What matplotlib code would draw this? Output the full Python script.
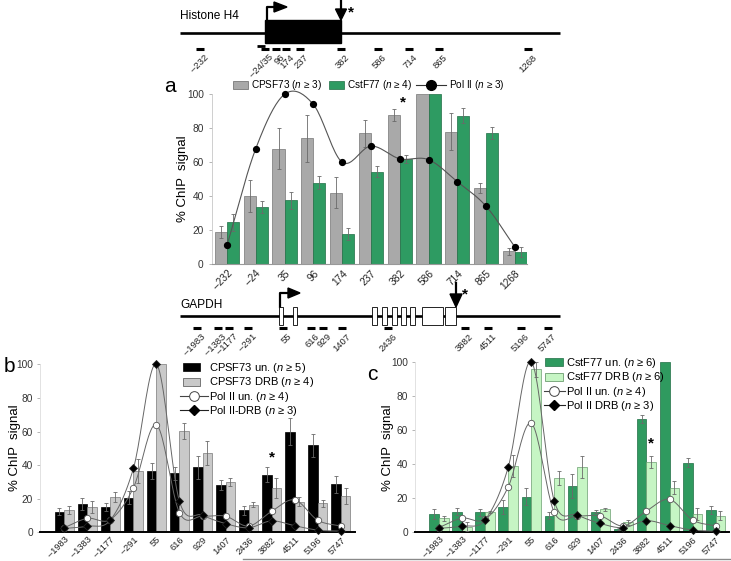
import numpy as np
import matplotlib
matplotlib.use('Agg')
import matplotlib.pyplot as plt
from matplotlib.patches import Rectangle, Polygon
from matplotlib.legend_handler import HandlerPatch
from matplotlib.lines import Line2D

plt.rcParams['font.family'] = ['Liberation Sans', 'DejaVu Sans']
plt.rcParams['mathtext.fontset'] = 'custom'
plt.rcParams['mathtext.rm'] = 'Liberation Sans'
plt.rcParams['mathtext.it'] = 'Liberation Sans:italic'

# ---------------- data ----------------
h4_sites = ['–232', '–24', '35', '96', '174', '237', '382', '586', '714', '865', '1268']
cpsf73_a = [19, 40, 68, 74, 42, 77, 88, 100, 78, 45, 7.5]
cpsf73_a_err = [3.5, 9.5, 12, 14, 9, 8, 3.5, 0, 11, 3, 2]
cstf77_a = [24.5, 33.5, 37.5, 48, 17.5, 54.5, 62, 100, 87.5, 77, 7]
cstf77_a_err = [5, 3.5, 5, 4, 3.5, 3.5, 2.5, 0, 4.5, 3.5, 3]
pol2_a = [11, 68, 100, 94, 60, 69.5, 62, 61.5, 48.5, 34, 10]

gapdh_sites = ['–1983', '–1383', '–1177', '–291', '55', '616', '929', '1407',
               '2436', '3882', '4511', '5196', '5747']
cpsf73_un = [12.3, 16.7, 15, 20.6, 36.5, 35, 38.7, 28.2, 13, 34.3, 60, 51.8, 28.6]
cpsf73_un_err = [2, 3.5, 2.5, 4, 5, 4, 7, 3, 2.5, 4.5, 8, 7, 5]
cpsf73_drb = [13.3, 14.9, 20.8, 36.5, 100, 60.3, 47.2, 29.8, 16.3, 26.2, 18.3, 17.3, 21.6]
cpsf73_drb_err = [2.5, 3.5, 3, 7, 0, 5, 7, 2.5, 1.5, 6, 2.5, 2, 5]
cstf77_un = [10.7, 12.1, 11.7, 15, 20.9, 9.8, 27.3, 12.1, 2.1, 66.4, 100, 40.8, 13.1]
cstf77_un_err = [2.8, 2, 2, 4, 5, 2, 7, 1, 0.5, 2.5, 0, 2.5, 2.5]
cstf77_drb = [8.2, 3.3, 11.9, 38.9, 95.5, 32, 38.1, 13.5, 5.9, 41.4, 26.2, 10.7, 9.6]
cstf77_drb_err = [1.6, 2.5, 0.5, 6.4, 4.5, 4, 6.5, 1, 1.4, 3.5, 4, 3.3, 2.6]
pol2_un = [2.8, 8.3, 7.6, 26.5, 64, 11.7, 9.6, 9.6, 3.7, 12.5, 19.3, 7.2, 3.7]
pol2_drb = [2.3, 3.6, 7.3, 38, 100, 18.4, 10.2, 5.2, 2.7, 6.8, 3.9, 1.3, 0.7]

# gene-diagram probe labels (schematic)
h4_probe_labels = ['–232', '–24/35', '96', '174', '237', '382', '586', '714', '865', '1268']
gapdh_probe_labels = gapdh_sites

W, H = 731, 561
fig = plt.figure(figsize=(W / 100, H / 100), dpi=100)

# ---------------- helpers ----------------
def px_axes(l, t, r, b):
    return fig.add_axes([l / W, 1 - b / H, (r - l) / W, (b - t) / H])


def smooth(xv, yv, n=20):
    xv = np.asarray(xv, float); yv = np.asarray(yv, float)
    P = np.column_stack([xv, yv])
    P = np.vstack([2 * P[0] - P[1], P, 2 * P[-1] - P[-2]])
    out = []
    t = np.linspace(0, 1, n, endpoint=False)[:, None]
    for i in range(1, len(P) - 2):
        p0, p1, p2, p3 = P[i - 1], P[i], P[i + 1], P[i + 2]
        seg = 0.5 * ((2 * p1) + (-p0 + p2) * t + (2 * p0 - 5 * p1 + 4 * p2 - p3) * t ** 2
                     + (-p0 + 3 * p1 - 3 * p2 + p3) * t ** 3)
        out.append(seg)
    out.append(P[-2][None, :])
    S = np.vstack(out)
    return S[:, 0], S[:, 1]


def add_bars(ax, v1, e1, v2, e2, c1, c2, ec1, ec2, w=0.42):
    x = np.arange(len(v1))
    ax.bar(x - w / 2, v1, w, color=c1, edgecolor=ec1, lw=0.5, zorder=2)
    ax.bar(x + w / 2, v2, w, color=c2, edgecolor=ec2, lw=0.5, zorder=2)
    for off, v, e in ((-w / 2, v1, e1), (w / 2, v2, e2)):
        v = np.asarray(v, float); e = np.asarray(e, float)
        m = e > 0
        ax.errorbar(x[m] + off, v[m], yerr=e[m], fmt='none', ecolor='#6a6a6a',
                    elinewidth=0.6, capsize=1.5, capthick=0.6, zorder=3)


def style_axes(ax, labels, xlim, bottom_color, bottom_lw, left_color, xfs, ypad, xpad):
    ax.set_xlim(*xlim)
    ax.set_ylim(0, 100)
    ax.set_yticks(range(0, 101, 20))
    ax.set_xticks(np.arange(len(labels)))
    ax.set_xticklabels(labels, rotation=45, ha='right', rotation_mode='anchor',
                       fontsize=xfs, color='#222222')
    ax.tick_params(axis='x', length=0, pad=xpad)
    ax.tick_params(axis='y', length=2, width=0.5, color='#999999', pad=ypad,
                   labelsize=7.3, labelcolor='#333333')
    for s in ('top', 'right'):
        ax.spines[s].set_visible(False)
    ax.spines['left'].set_color(left_color)
    ax.spines['left'].set_linewidth(0.6)
    ax.spines['bottom'].set_color(bottom_color)
    ax.spines['bottom'].set_linewidth(bottom_lw)
    ax.set_facecolor('none')


def patch_func_factory(x0, wf):
    def f(legend, orig_handle, xdescent, ydescent, width, height, fontsize):
        return Rectangle((-xdescent + x0 * width, -ydescent), wf * width, height)
    return f

# ---------------- gene diagrams (schematic overlay) ----------------
ov = fig.add_axes([0, 0, 1, 1])
ov.set_xlim(0, W); ov.set_ylim(H, 0); ov.axis('off')

# Histone H4
ov.text(180, 16, 'Histone H4', fontsize=8.6, va='center', ha='left')
ov.plot([180, 560], [33, 33], color='k', lw=1.9, solid_capstyle='butt')
ov.add_patch(Rectangle((265, 20), 76, 23, facecolor='k', edgecolor='k'))
ov.plot([266.5, 266.5, 276], [20, 7, 7], color='k', lw=1.6)
ov.add_patch(Polygon([(274, 2), (274, 12), (287, 7)], closed=True, color='k'))
ov.plot([341, 341], [1, 11], color='k', lw=1.6)
ov.add_patch(Polygon([(335.5, 9), (346.5, 9), (341, 20)], closed=True, color='k'))
ov.text(348, 12, '*', fontsize=11, ha='left', va='center', fontweight='bold')
h4_probe_x = [200, 265, 276, 286, 300, 341, 378, 409, 439, 528]
for lab, xp in zip(h4_probe_labels, h4_probe_x):
    ov.plot([xp - 4, xp + 4], [49, 49], color='k', lw=2.2, solid_capstyle='butt')
    ov.text(xp + 4, 53, lab, fontsize=6.8, rotation=45, ha='right', va='top',
            rotation_mode='anchor', color='#222222')
ov.plot([257, 265], [46, 46], color='k', lw=2.0, solid_capstyle='butt')

# GAPDH
ov.text(180, 305, 'GAPDH', fontsize=8.6, va='center', ha='left')
ov.plot([180, 560], [316, 316], color='k', lw=1.9, solid_capstyle='butt')
exons = [(279, 4), (293, 4), (372, 5), (382, 5), (392, 5), (401, 5), (410, 5), (422, 21), (445, 11)]
for x0, wd in exons:
    ov.add_patch(Rectangle((x0, 307), wd, 18, facecolor='white', edgecolor='k', lw=0.6, zorder=3))
ov.plot([280, 280, 289], [307, 293, 293], color='k', lw=1.6)
ov.add_patch(Polygon([(288, 288), (288, 298), (300, 293)], closed=True, color='k'))
ov.plot([456, 456], [283, 296], color='k', lw=1.6)
ov.add_patch(Polygon([(450, 294), (462, 294), (456, 307)], closed=True, color='k'))
ov.text(462, 294, '*', fontsize=11, ha='left', va='center', fontweight='bold')
gapdh_probe_x = [197, 218, 229, 248, 283, 311, 323, 342, 388, 465, 488, 521, 548]
for lab, xp in zip(gapdh_probe_labels, gapdh_probe_x):
    ov.plot([xp - 4, xp + 4], [328, 328], color='k', lw=2.2, solid_capstyle='butt')
    ov.text(xp + 4, 332, lab, fontsize=6.8, rotation=45, ha='right', va='top',
            rotation_mode='anchor', color='#222222')

ov.plot([243, 731], [558.5, 558.5], color='#8a8a8a', lw=1.0)

# ---------------- panel a ----------------
gray_a = '#a9a9a9'
green = '#2e9b62'
axa = px_axes(212, 94.3, 527, 264)
add_bars(axa, cpsf73_a, cpsf73_a_err, cstf77_a, cstf77_a_err, gray_a, green, '#777777', '#1f6e45')
xs, ys = smooth(np.arange(len(pol2_a)), pol2_a)
axa.plot(xs, ys, color='#555555', lw=0.8, zorder=4, clip_on=False)
axa.plot(np.arange(len(pol2_a)), pol2_a, 'o', color='k', ms=4.2, zorder=5, clip_on=False)
style_axes(axa, h4_sites, (-0.52, 10.42), '#999999', 0.8, '#c8c8c8', 7.3, 4, 3)
axa.text(6.1, 95, '*', fontsize=11, ha='center', va='center', fontweight='bold')
fig.text(183 / W, 1 - 179 / H, '% ChIP  signal', rotation=90, fontsize=9.5, ha='center', va='center')
fig.text(170 / W, 1 - 86 / H, 'a', fontsize=15, ha='center', va='center')

la1 = axa.legend([Rectangle((0, 0), 1, 1, facecolor=gray_a, edgecolor='#666666', lw=0.5),
                  Rectangle((0, 0), 1, 1, facecolor=green, edgecolor='#1f6e45', lw=0.5)],
                 ['CPSF73 ($n$ ≥ 3)', 'CstF77 ($n$ ≥ 4)'], ncol=2, frameon=False,
                 fontsize=7.2, handlelength=1.5, handleheight=0.75, handletextpad=0.3,
                 columnspacing=0.7, borderpad=0, borderaxespad=0,
                 loc='center left', bbox_to_anchor=(233 / W, 1 - 85.5 / H),
                 bbox_transform=fig.transFigure)
axa.add_artist(la1)
axa.legend([Line2D([], [], color='#333333', lw=0.8, marker='o', ms=7, mfc='k', mec='k')],
           ['Pol II ($n$ ≥ 3)'], frameon=False, fontsize=7.2, handlelength=3.0,
           handletextpad=0.3, borderpad=0, borderaxespad=0, numpoints=1,
           loc='center left', bbox_to_anchor=(416 / W, 1 - 85.5 / H),
           bbox_transform=fig.transFigure)

# ---------------- panel b ----------------
axb = px_axes(40, 364.3, 355, 532.3)
add_bars(axb, cpsf73_un, cpsf73_un_err, cpsf73_drb, cpsf73_drb_err, 'black', '#c9c9c9', 'black', '#7a7a7a')
xg = np.arange(len(pol2_un))
for vals, mk, mfc in ((pol2_un, 'o', 'white'), (pol2_drb, 'D', 'black')):
    sx, sy = smooth(xg, vals)
    axb.plot(sx, sy, color='#666666', lw=0.7, zorder=4, clip_on=False)
    axb.plot(xg, vals, mk, mfc=mfc, mec='#222222' if mk == 'D' else '#555555', mew=0.6,
             ms=4.6 if mk == 'o' else 3.8, zorder=5, clip_on=False)
style_axes(axb, gapdh_sites, (-1.055, 12.62), 'black', 1.4, '#dddddd', 6.7, 3, 2)
axb.text(9, 40.5, '*', fontsize=11, ha='center', va='bottom', fontweight='bold')
fig.text(15 / W, 1 - 448 / H, '% ChIP  signal', rotation=90, fontsize=9.5, ha='center', va='center')
fig.text(9 / W, 1 - 366 / H, 'b', fontsize=15, ha='center', va='center')

hb = [Rectangle((0, 0), 1, 1, facecolor='black', edgecolor='black', lw=0.5),
      Rectangle((0, 0), 1, 1, facecolor='#c9c9c9', edgecolor='#666666', lw=0.6),
      Line2D([], [], color='#444444', lw=0.8, marker='o', ms=7, mfc='white', mec='#444444', mew=0.7),
      Line2D([], [], color='#222222', lw=0.8, marker='D', ms=5.5, mfc='black', mec='black')]
lb = ['CPSF73 un. ($n$ ≥ 5)', 'CPSF73 DRB ($n$ ≥ 4)', 'Pol II un. ($n$ ≥ 4)', 'Pol II-DRB ($n$ ≥ 3)']
axb.legend(hb, lb, frameon=False, fontsize=8, handlelength=2.5, handleheight=0.72,
           handletextpad=0.12, labelspacing=0.04, borderpad=0, borderaxespad=0, numpoints=1,
           loc='upper left', bbox_to_anchor=(180 / W, 1 - 361 / H), bbox_transform=fig.transFigure,
           handler_map={Rectangle: HandlerPatch(patch_func=patch_func_factory(0.11, 0.61))})

# ---------------- panel c ----------------
axc = px_axes(415, 361.7, 729, 532.3)
dgreen = '#2f9a5f'
lgreen = '#c6f5c4'
add_bars(axc, cstf77_un, cstf77_un_err, cstf77_drb, cstf77_drb_err, dgreen, lgreen, '#1f6e45', '#6c9e70')
for vals, mk, mfc in ((pol2_un, 'o', 'white'), (pol2_drb, 'D', 'black')):
    sx, sy = smooth(xg, vals)
    axc.plot(sx, sy, color='#666666', lw=0.7, zorder=4, clip_on=False)
    axc.plot(xg, vals, mk, mfc=mfc, mec='#222222' if mk == 'D' else '#555555', mew=0.6,
             ms=4.6 if mk == 'o' else 3.8, zorder=5, clip_on=False)
style_axes(axc, gapdh_sites, (-1.04, 12.58), 'black', 1.4, '#dddddd', 6.7, 3, 2)
axc.text(9.2, 48, '*', fontsize=11, ha='center', va='bottom', fontweight='bold')
fig.text(388 / W, 1 - 448 / H, '% ChIP  signal', rotation=90, fontsize=9.5, ha='center', va='center')
fig.text(372 / W, 1 - 374 / H, 'c', fontsize=15, ha='center', va='center')

hc = [Rectangle((0, 0), 1, 1, facecolor=dgreen, edgecolor='#1f6e45', lw=0.5),
      Rectangle((0, 0), 1, 1, facecolor=lgreen, edgecolor='#6c9e70', lw=0.6),
      Line2D([], [], color='#444444', lw=0.8, marker='o', ms=7, mfc='white', mec='#444444', mew=0.7),
      Line2D([], [], color='#222222', lw=0.8, marker='D', ms=5.5, mfc='black', mec='black')]
lc = ['CstF77 un. ($n$ ≥ 6)', 'CstF77 DRB ($n$ ≥ 6)', 'Pol II un. ($n$ ≥ 4)', 'Pol II DRB ($n$ ≥ 3)']
axc.legend(hc, lc, frameon=False, fontsize=8, handlelength=1.85, handleheight=0.72,
           handletextpad=0.15, labelspacing=0.04, borderpad=0, borderaxespad=0, numpoints=1,
           loc='upper left', bbox_to_anchor=(544 / W, 1 - 356 / H), bbox_transform=fig.transFigure,
           handler_map={Rectangle: HandlerPatch(patch_func=patch_func_factory(0.05, 0.85))})

fig.savefig('out.png', dpi=100)
